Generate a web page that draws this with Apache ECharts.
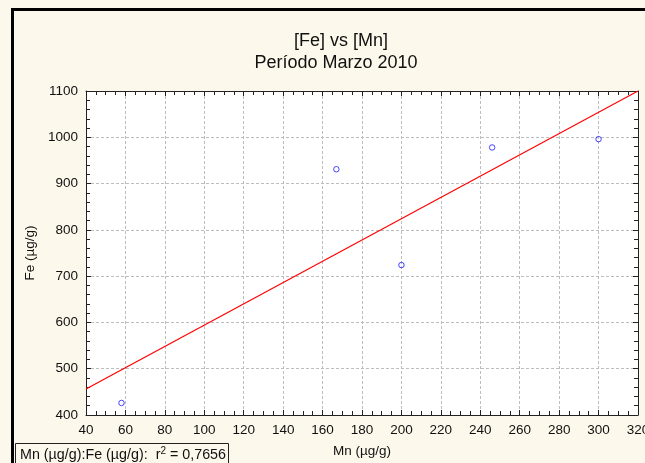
<!DOCTYPE html>
<html>
<head>
<meta charset="utf-8">
<script src="https://cdn.jsdelivr.net/npm/echarts@6/dist/echarts.min.js"></script>
<style>
html,body{margin:0;padding:0;background:#fdf8ec;overflow:hidden;}
#chart{width:645px;height:463px;}
</style>
</head>
<body>
<div id="chart"></div>
<script>
// Data
const mnValues = [58, 167, 200, 246, 300];
const feValues = [426, 931, 724, 978, 996];
const fitMn = [40, 320];
const fitFe = [456, 1100];
const xTickRange = [40, 320, 20];
const yTickRange = [400, 1100, 100];
const titleText = '[Fe] vs [Mn]';
const subtitleText = 'Período Marzo 2010';
const xName = 'Mn (µg/g)';
const yName = 'Fe (µg/g)';
const r2Text = '0,7656';

const FONT = '"Liberation Sans", Arial, sans-serif';
const chart = echarts.init(document.getElementById('chart'), null, {renderer: 'canvas'});

function axisBase(isX, secondary) {
  const r = isX ? xTickRange : yTickRange;
  return {
    type: 'value',
    min: r[0], max: r[1], interval: r[2],
    position: isX ? (secondary ? 'top' : 'bottom') : (secondary ? 'right' : 'left'),
    axisLine: {show: true, onZero: false, lineStyle: {color: '#222', width: 1}},
    axisTick: {show: true, inside: true, length: 5, lineStyle: {color: '#222', width: 1}},
    minorTick: {show: true, splitNumber: isX ? 4 : 5, length: 4, lineStyle: {color: '#222', width: 1}},
    axisLabel: {show: !secondary, color: '#111', fontSize: 13.5, fontFamily: FONT, margin: 8,
      hideOverlap: false, showMinLabel: true, showMaxLabel: true,
      formatter: function (v) { return String(v); }},
    splitLine: {show: !secondary, lineStyle: {color: '#bdbdbd', type: [3, 2], width: 1}},
    minorSplitLine: {show: false}
  };
}

const xMain = Object.assign(axisBase(true, false), {
  name: xName, nameLocation: 'middle', nameGap: 29,
  nameTextStyle: {color: '#111', fontSize: 13.5, fontFamily: FONT}
});
const yMain = Object.assign(axisBase(false, false), {
  name: yName, nameLocation: 'middle', nameGap: 49, nameRotate: 90,
  nameTextStyle: {color: '#111', fontSize: 13.5, fontFamily: FONT}
});

const option = {
  backgroundColor: '#fdf8ec',
  animation: false,
  title: [
    {text: titleText, left: 336, top: 27, textAlign: 'center',
     textStyle: {fontSize: 18, fontWeight: 'normal', color: '#111', fontFamily: FONT}},
    {text: subtitleText, left: 331, top: 49, textAlign: 'center',
     textStyle: {fontSize: 18, fontWeight: 'normal', color: '#111', fontFamily: FONT}}
  ],
  grid: {left: 86, right: 7, top: 91, bottom: 48, show: true, backgroundColor: '#ffffff', borderWidth: 0,
    containLabel: false, outerBoundsMode: 'none'},
  xAxis: [xMain, axisBase(true, true)],
  yAxis: [yMain, axisBase(false, true)],
  series: [
    {
      type: 'line',
      xAxisIndex: 0, yAxisIndex: 0,
      data: fitMn.map((x, i) => [x, fitFe[i]]),
      showSymbol: false, symbol: 'none',
      lineStyle: {color: '#ff0000', width: 1.2},
      silent: true, z: 3
    },
    {
      type: 'scatter',
      xAxisIndex: 0, yAxisIndex: 0,
      data: mnValues.map((x, i) => [x, feValues[i]]),
      symbol: 'circle', symbolSize: 5.5,
      itemStyle: {color: 'rgba(255,255,255,0)', borderColor: '#1a1aff', borderWidth: 1},
      z: 4
    }
  ],
  graphic: [
    {type: 'line', shape: {x1: 12.5, y1: 8, x2: 12.5, y2: 470},
     style: {stroke: '#000', lineWidth: 3}, z: 100},
    {type: 'line', shape: {x1: 11, y1: 9.5, x2: 645, y2: 9.5},
     style: {stroke: '#000', lineWidth: 3}, z: 100},
    {type: 'rect', shape: {x: 15.5, y: 443.5, width: 213, height: 30},
     style: {stroke: '#222', lineWidth: 1, fill: '#fdf8ec'}, z: 100},
    {type: 'text', left: 20, top: 446, z: 101,
     style: {
       text: 'Mn (µg/g):Fe (µg/g):  r{sup|2} = ' + r2Text,
       font: '14.3px ' + FONT, fill: '#111',
       rich: {sup: {fontSize: 10, verticalAlign: 'top', padding: [0, 0, 8, 0], fontFamily: FONT, fill: '#111'}}
     }}
  ]
};
chart.setOption(option);
</script>
</body>
</html>
